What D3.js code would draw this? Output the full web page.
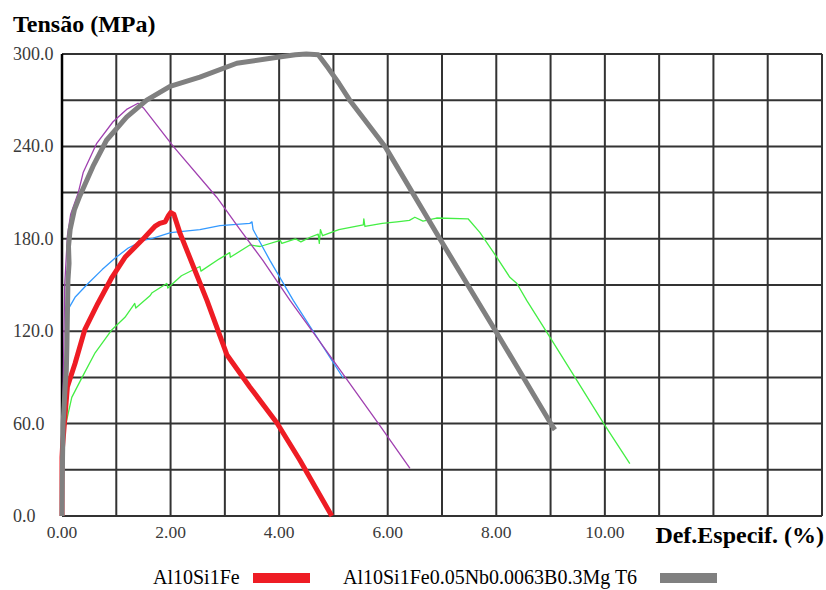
<!DOCTYPE html>
<html>
<head>
<meta charset="utf-8">
<script src="https://cdn.jsdelivr.net/npm/d3@7"></script>
<style>
  body { margin: 0; background: #fff; }
</style>
</head>
<body>
<script>
// tick labels
var xTicks = [0, 2, 4, 6, 8, 10];
var yTicks = [0, 60, 120, 180, 240, 300];

// curves: [strain %, stress MPa]
var green = [[0,0],[0.01,20],[0.02,40],[0.03,49],[0.06,58],[0.18,77],[0.37,90],[0.61,106],[0.92,121],[1.16,129],
  [1.34,138],[1.36,135],[1.62,143],[1.66,145],[1.93,151],[1.95,148],[2.2,156],[2.54,162],[2.56,159],[2.9,167],
  [3.09,171],[3.1,168],[3.46,176],[3.65,175],[4.02,179],[4.05,177],[4.3,180],[4.4,178],[4.57,181],[4.72,183],
  [4.74,177],[4.76,186],[4.8,182],[5.1,186],[5.55,189],[5.56,193],[5.58,188],[5.9,190],[6.17,191],[6.4,192],
  [6.5,194],[6.65,191.5],[6.9,193.5],[7.48,193],[7.7,184],[8.01,168],[8.25,155],[8.38,151],[8.56,140],
  [8.99,116],[9.45,90],[9.98,60],[10.46,34]];

var blue = [[0,0],[0.03,40],[0.06,90],[0.09,120],[0.11,134],[0.24,142],[0.48,151],[0.74,160],[0.98,167.5],
  [1.22,174],[1.5,179],[1.68,180.5],[2.0,184],[2.54,186],[2.91,188.5],[3.46,190],[3.5,191],[3.52,186],
  [3.83,166],[4.26,140],[5.18,89.6]];

var purple = [[0,0],[0.02,80],[0.05,150],[0.1,182],[0.16,196],[0.3,210],[0.39,223],[0.64,242],[0.94,256],
  [1.19,264],[1.4,268],[1.5,265],[2.05,240],[2.85,207],[3.28,186],[3.7,166],[4.2,140],[4.63,119],[5.83,60],
  [6.41,31]];

var red = [[0,0],[0.0,38],[0.01,45],[0.06,67],[0.1,84],[0.24,99],[0.42,121],[0.66,138],[0.92,155],[1.16,168],
  [1.47,179],[1.71,188],[1.8,190],[1.9,191],[1.96,195],[2.0,197],[2.06,196],[2.17,184],[2.67,140],[3.04,104.5],
  [3.46,83.8],[3.96,60.4],[4.38,36.4],[4.97,0]];

var gray = [[0,0],[0.005,20],[0.01,38],[0.02,60],[0.04,72],[0.06,85],[0.08,95],[0.09,110],[0.1,132],[0.11,153],
  [0.13,164],[0.12,175],[0.15,186],[0.23,199],[0.33,208],[0.57,227],[0.82,244],[1.19,259],[1.56,270],
  [1.99,279],[2.54,285],[3.22,294],[4.0,298],[4.3,299.5],[4.5,300],[4.72,299.5],[4.9,291],[5.1,281],[5.3,270],
  [5.95,240],[6.96,180],[7.99,120],[9.04,58],[9.08,56]];

var legendNames = ["Al10Si1Fe", "Al10Si1Fe0.05Nb0.0063B0.3Mg T6"];

var W = 826, H = 590;
var margin = {top: 54, right: 4, bottom: 74, left: 62},
    width = W - margin.left - margin.right,
    height = H - margin.top - margin.bottom;

var serif = "Liberation Serif";

var svg = d3.select("body").append("svg")
    .attr("width", W)
    .attr("height", H);

var g = svg.append("g")
    .attr("transform", "translate(" + margin.left + "," + margin.top + ")");

var x = d3.scaleLinear().domain([0, 14]).range([0, width]);
var y = d3.scaleLinear().domain([0, 300]).range([height, 0]);

// grid
g.append("g")
  .selectAll("line")
  .data(d3.range(0, 15, 1))
  .enter().append("line")
    .attr("x1", function(d) { return x(d); })
    .attr("x2", function(d) { return x(d); })
    .attr("y1", 0)
    .attr("y2", height)
    .attr("stroke", "#333")
    .attr("stroke-width", 2);

g.append("g")
  .selectAll("line")
  .data(d3.range(0, 301, 30))
  .enter().append("line")
    .attr("x1", 0)
    .attr("x2", width)
    .attr("y1", function(d) { return y(d); })
    .attr("y2", function(d) { return y(d); })
    .attr("stroke", "#333")
    .attr("stroke-width", 2);

// left axis line
g.append("line")
  .attr("x1", 0).attr("x2", 0).attr("y1", 0).attr("y2", height)
  .attr("stroke", "#000").attr("stroke-width", 2.5);

// tick labels
svg.append("g")
  .selectAll("text")
  .data(yTicks)
  .enter().append("text")
    .attr("x", 13)
    .attr("y", function(d) { return margin.top + y(d) + 6; })
    .attr("font-family", serif)
    .attr("font-size", 18)
    .attr("fill", "#3a3a3a")
    .text(function(d) { return d3.format(".1f")(d); });

svg.append("g")
  .selectAll("text")
  .data(xTicks)
  .enter().append("text")
    .attr("x", function(d) { return margin.left + x(d); })
    .attr("y", margin.top + height + 22)
    .attr("text-anchor", "middle")
    .attr("font-family", serif)
    .attr("font-size", 17.5)
    .attr("fill", "#3a3a3a")
    .text(function(d) { return d3.format(".2f")(d); });

// curves
var line = d3.line()
    .x(function(d) { return x(d[0]); })
    .y(function(d) { return y(d[1]); });

var series = [
  {data: green, color: "#44ee44", w: 1.3},
  {data: blue, color: "#3399ff", w: 1.3},
  {data: purple, color: "#a040b0", w: 1.3},
  {data: red, color: "#ee1c24", w: 5},
  {data: gray, color: "#808080", w: 5}
];

g.selectAll("path.curve")
  .data(series)
  .enter().append("path")
    .attr("class", "curve")
    .attr("d", function(d) { return line(d.data); })
    .attr("fill", "none")
    .attr("stroke", function(d) { return d.color; })
    .attr("stroke-width", function(d) { return d.w; })
    .attr("stroke-linejoin", "round");

// axis titles
svg.append("text")
  .attr("x", 13)
  .attr("y", 32)
  .attr("font-family", serif)
  .attr("font-size", 24)
  .attr("font-weight", "bold")
  .text("Tensão (MPa)");

svg.append("text")
  .attr("x", 824)
  .attr("y", 543)
  .attr("text-anchor", "end")
  .attr("font-family", serif)
  .attr("font-size", 24)
  .attr("font-weight", "bold")
  .text("Def.Especif. (%)");

// legend
var legend = [
  {name: legendNames[0], color: "#ee1c24", tx: 153, sx: 253},
  {name: legendNames[1], color: "#808080", tx: 343, sx: 660}
];

legend.forEach(function(l) {
  svg.append("text")
    .attr("x", l.tx)
    .attr("y", 584)
    .attr("font-family", serif)
    .attr("font-size", 20)
    .text(l.name);
  svg.append("rect")
    .attr("x", l.sx)
    .attr("y", 573)
    .attr("width", 57)
    .attr("height", 10)
    .attr("fill", l.color);
});
</script>
</body>
</html>
